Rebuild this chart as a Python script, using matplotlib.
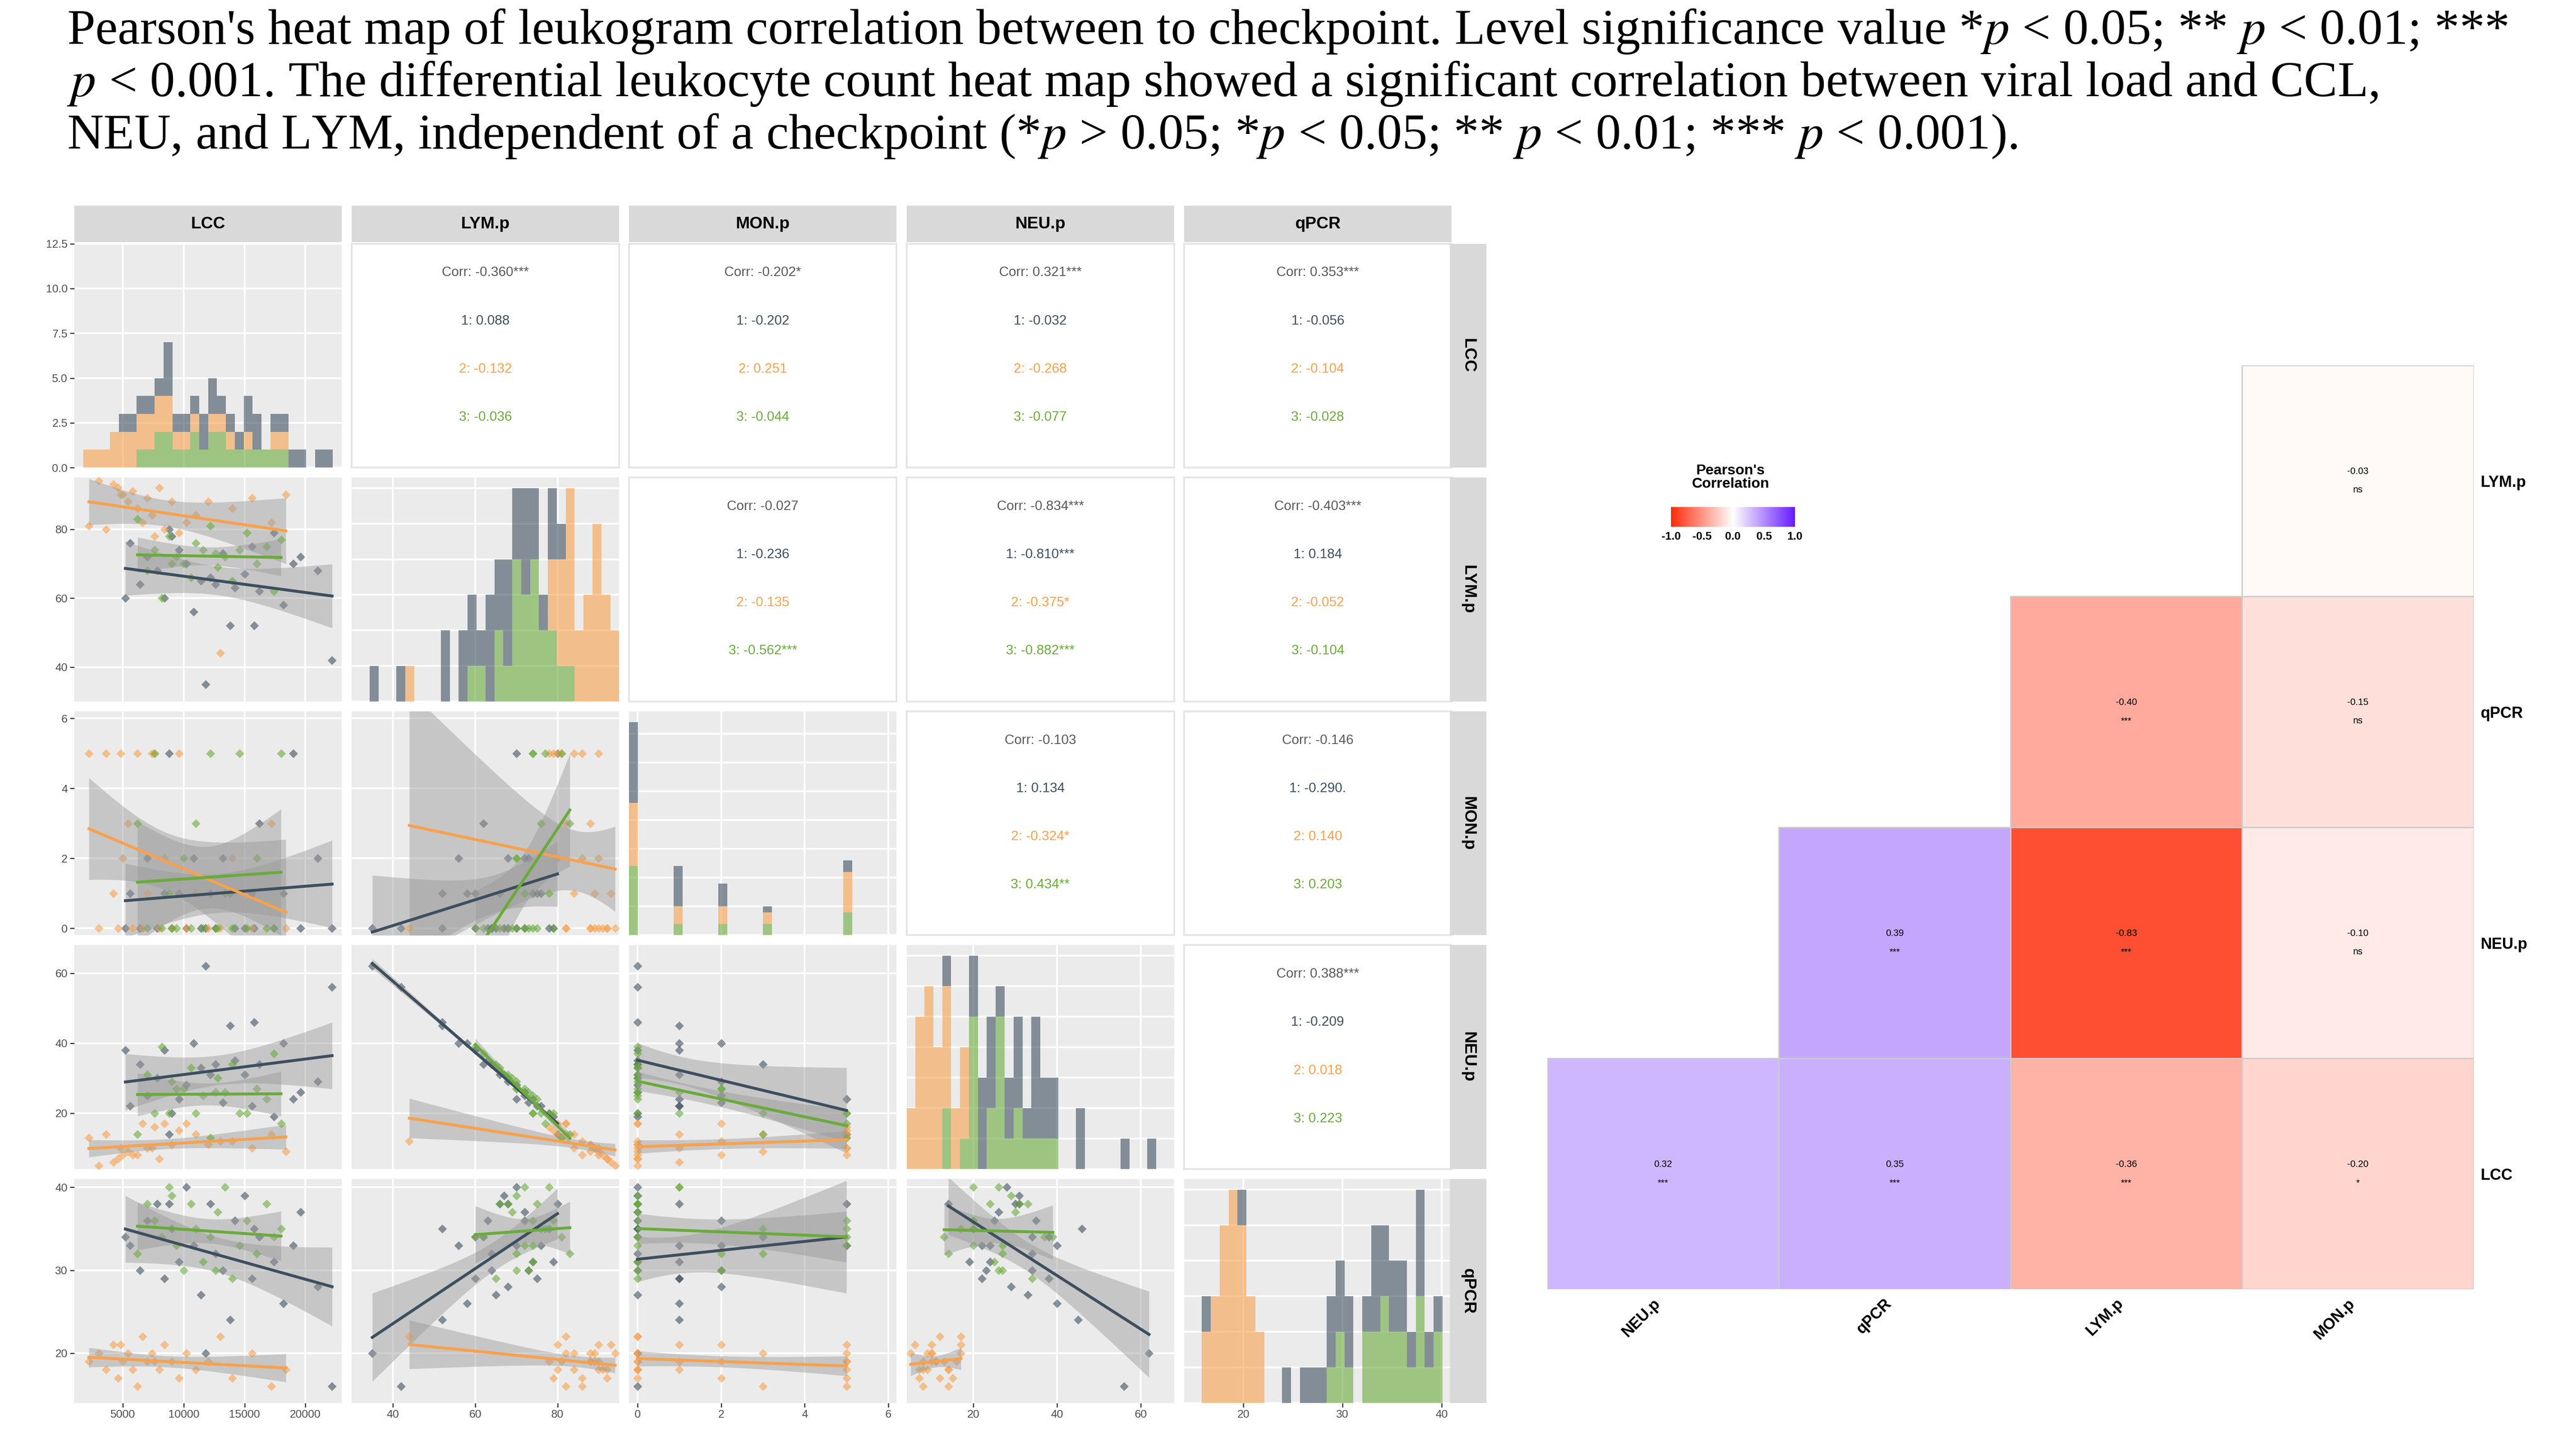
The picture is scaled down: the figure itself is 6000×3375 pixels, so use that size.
import matplotlib.pyplot as plt
import numpy as np
from matplotlib.colors import LinearSegmentedColormap


VARS = ["LCC", "LYM.p", "MON.p", "NEU.p", "qPCR"]
COLORS = {1: "#3d4f5f", 2: "#f7a14d", 3: "#6aab3b"}

# rows: LCC, LYM.p, MON.p, NEU.p, qPCR
GROUPS = {
    1: [(5200, 60, 0, 38, 34), (5600, 76, 1, 22, 33), (6400, 64, 0, 34, 30), (7000, 72, 2, 25, 36),
        (7800, 68, 0, 30, 38), (8400, 60, 1, 38, 29), (9000, 78, 0, 20, 35), (9600, 74, 1, 24, 31),
        (10200, 70, 0, 28, 40), (10800, 56, 2, 40, 33), (11400, 65, 0, 33, 27), (12200, 66, 1, 31, 38),
        (12600, 64, 0, 34, 32), (13200, 73, 2, 23, 30), (13800, 52, 1, 45, 24), (14200, 63, 0, 35, 36),
        (15000, 67, 0, 31, 39), (15600, 75, 1, 22, 29), (16200, 62, 3, 34, 34), (17400, 79, 0, 19, 31),
        (18200, 58, 1, 40, 26), (19000, 70, 5, 24, 33), (19600, 72, 0, 26, 37), (21000, 68, 2, 29, 28),
        (22200, 42, 0, 56, 16), (11800, 35, 0, 62, 20), (8800, 80, 5, 14, 38), (15800, 52, 0, 46, 35)],
    2: [(2200, 81, 5, 13, 19), (3000, 94, 0, 5, 20), (3600, 80, 5, 14, 18), (4200, 93, 1, 6, 21),
        (4600, 92, 0, 7, 17), (5000, 90, 2, 8, 19), (5400, 88, 3, 9, 20), (5800, 91, 0, 8, 18),
        (6200, 86, 5, 8, 16), (6600, 82, 0, 17, 22), (7000, 89, 1, 10, 19), (7400, 84, 5, 10, 20),
        (8000, 92, 0, 7, 18), (8400, 80, 2, 17, 21), (9000, 88, 0, 11, 19), (9600, 79, 5, 15, 17),
        (10200, 82, 0, 17, 20), (11000, 84, 1, 14, 18), (12000, 88, 0, 11, 19), (13000, 44, 0, 12, 22),
        (14000, 86, 2, 12, 17), (15600, 89, 0, 10, 20), (17200, 82, 3, 14, 16), (18400, 90, 0, 9, 18),
        (4800, 90, 5, 10, 21), (7600, 78, 5, 16, 19)],
    3: [(6200, 83, 3, 14, 32), (7000, 68, 0, 31, 38), (7600, 74, 5, 20, 36), (8200, 60, 0, 39, 34),
        (8800, 78, 1, 20, 40), (9400, 72, 0, 27, 33), (10000, 70, 2, 27, 30), (10600, 66, 0, 33, 38),
        (11000, 76, 3, 20, 35), (11600, 74, 0, 25, 31), (12200, 81, 5, 13, 34), (12800, 69, 0, 30, 37),
        (13400, 72, 1, 26, 40), (14000, 65, 0, 34, 29), (14600, 74, 5, 20, 33), (15200, 79, 0, 20, 36),
        (16000, 70, 2, 27, 32), (16800, 75, 0, 24, 38), (17400, 62, 0, 37, 34), (18000, 77, 5, 17, 35),
        (9000, 70, 0, 29, 39), (12600, 73, 0, 26, 30)],
}

LIMITS = [(1000, 23000), (30, 95), (-0.2, 6.2), (4, 68), (14, 41)]
TICKS = [[5000, 10000, 15000, 20000], [40, 60, 80], [0, 2, 4, 6], [20, 40, 60], [20, 30, 40]]

# Corr text in the upper panels: overall, group 1, 2, 3
CORR_TEXT = {
    (0, 1): ["-0.360***", "0.088", "-0.132", "-0.036"],
    (0, 2): ["-0.202*", "-0.202", "0.251", "-0.044"],
    (0, 3): ["0.321***", "-0.032", "-0.268", "-0.077"],
    (0, 4): ["0.353***", "-0.056", "-0.104", "-0.028"],
    (1, 2): ["-0.027", "-0.236", "-0.135", "-0.562***"],
    (1, 3): ["-0.834***", "-0.810***", "-0.375*", "-0.882***"],
    (1, 4): ["-0.403***", "0.184", "-0.052", "-0.104"],
    (2, 3): ["-0.103", "0.134", "-0.324*", "0.434**"],
    (2, 4): ["-0.146", "-0.290.", "0.140", "0.203"],
    (3, 4): ["0.388***", "-0.209", "0.018", "0.223"],
}

# ggcorrplot cells: (row, col, r, label)
HEAT_COLS = ["NEU.p", "qPCR", "LYM.p", "MON.p"]
HEAT_ROWS = ["LCC", "NEU.p", "qPCR", "LYM.p"]  # bottom to top
HEAT_CELLS = [
    (3, 3, -0.03, "ns"),
    (2, 2, -0.40, "***"), (2, 3, -0.15, "ns"),
    (1, 1, 0.39, "***"), (1, 2, -0.83, "***"), (1, 3, -0.10, "ns"),
    (0, 0, 0.32, "***"), (0, 1, 0.35, "***"), (0, 2, -0.36, "***"), (0, 3, -0.20, "*"),
]

W, H = 1560.0, 880.0  # layout measured on the reference


def box(x0, y0, w, h):
    return [x0 / W, 1 - (y0 + h) / H, w / W, h / H]


def style_panel(ax, i, j):
    ax.set_facecolor("#ebebeb")
    ax.grid(True, color="white", lw=0.8)
    ax.set_axisbelow(True)
    for s in ax.spines.values():
        s.set_visible(False)
    ax.tick_params(length=2, width=0.5, color="#333333", labelsize=5, labelcolor="#4d4d4d", pad=1)
    if j != 0:
        ax.tick_params(labelleft=False, left=False)
    if i != 4:
        ax.tick_params(labelbottom=False, bottom=False)


def draw_hist(ax, k):
    data = [np.array(GROUPS[g])[:, k] for g in (3, 2, 1)]
    ax.hist(data, bins=30, range=LIMITS[k], stacked=True,
            color=[COLORS[3], COLORS[2], COLORS[1]], alpha=0.6)


def draw_scatter(ax, kx, ky):
    for g in (1, 2, 3):
        arr = np.array(GROUPS[g], dtype=float)
        x, y = arr[:, kx], arr[:, ky]
        ax.scatter(x, y, marker="D", s=8, color=COLORS[g], alpha=0.6, lw=0)
        b, a = np.polyfit(x, y, 1)
        xs = np.linspace(x.min(), x.max(), 50)
        res = y - (a + b * x)
        s = np.sqrt((res ** 2).sum() / (len(x) - 2))
        se = s * np.sqrt(1 / len(x) + (xs - x.mean()) ** 2 / ((x - x.mean()) ** 2).sum())
        ax.fill_between(xs, a + b * xs - 2.05 * se, a + b * xs + 2.05 * se, color="#999999", alpha=0.45, lw=0)
        ax.plot(xs, a + b * xs, color=COLORS[g], lw=1.3)


def draw_text(ax, texts):
    ax.set_facecolor("white")
    ax.set_xticks([])
    ax.set_yticks([])
    for s in ax.spines.values():
        s.set_color("#e5e5e5")
    labels = ["Corr: " + texts[0], "1: " + texts[1], "2: " + texts[2], "3: " + texts[3]]
    cols = ["#595959", COLORS[1], COLORS[2], COLORS[3]]
    for n, (t, c) in enumerate(zip(labels, cols)):
        ax.text(0.5, 0.87 - n * 0.215, t, color=c, fontsize=6, ha="center", va="center", transform=ax.transAxes)


def plot_pairs(fig):
    for i in range(5):
        for j in range(5):
            ax = fig.add_axes(box(45 + 168 * j, 148 + 142 * i, 162, 136))
            if i < j:
                draw_text(ax, CORR_TEXT[(i, j)])
                continue
            style_panel(ax, i, j)
            if i == j:
                draw_hist(ax, i)
                ax.set_xlim(LIMITS[i])
                if i == 0:
                    ax.set_yticks([0, 2.5, 5, 7.5, 10, 12.5])
                    ax.set_yticklabels(["0.0", "2.5", "5.0", "7.5", "10.0", "12.5"])
            else:
                draw_scatter(ax, j, i)
                ax.set_xlim(LIMITS[j])
                ax.set_ylim(LIMITS[i])
                ax.set_yticks(TICKS[i])
            ax.set_xticks(TICKS[j])

    for j, name in enumerate(VARS):
        st = fig.add_axes(box(45 + 168 * j, 125, 162, 22))
        st.set_facecolor("#d9d9d9")
        st.set_xticks([])
        st.set_yticks([])
        for s in st.spines.values():
            s.set_visible(False)
        st.text(0.5, 0.5, name, ha="center", va="center", fontsize=7.5, fontweight="bold", transform=st.transAxes)
    for i, name in enumerate(VARS):
        st = fig.add_axes(box(878, 148 + 142 * i, 22, 136))
        st.set_facecolor("#d9d9d9")
        st.set_xticks([])
        st.set_yticks([])
        for s in st.spines.values():
            s.set_visible(False)
        st.text(0.5, 0.5, name, ha="center", va="center", rotation=-90, fontsize=7.5, fontweight="bold",
                transform=st.transAxes)


def plot_heat(fig):
    cmap = LinearSegmentedColormap.from_list("rwb", ["#ff2c0a", "#ffffff", "#681bff"])
    ax = fig.add_axes(box(937, 222, 561, 561))
    for r, c, v, lab in HEAT_CELLS:
        ax.add_patch(plt.Rectangle((c, r), 1, 1, facecolor=cmap((v + 1) / 2), edgecolor="#cccccc", lw=0.6))
        ax.text(c + 0.5, r + 0.54, f"{v:.2f}", ha="center", va="center", fontsize=4.2)
        ax.text(c + 0.5, r + 0.46, lab, ha="center", va="center", fontsize=4.2)
    ax.set_xlim(0, 4)
    ax.set_ylim(0, 4)
    for s in ax.spines.values():
        s.set_visible(False)
    ax.set_xticks(np.arange(4) + 0.5)
    ax.set_xticklabels(HEAT_COLS, rotation=45, ha="right", va="top", fontsize=7, fontweight="bold")
    ax.set_yticks(np.arange(4) + 0.5)
    ax.set_yticklabels(HEAT_ROWS, fontsize=7, fontweight="bold")
    ax.yaxis.tick_right()
    ax.tick_params(length=0, pad=3)

    fig.text(1048 / W, 1 - 290 / H, "Pearson's\nCorrelation", ha="center", va="center",
             fontsize=6.5, fontweight="bold", linespacing=1.0)
    cax = fig.add_axes(box(1012, 308, 75, 12))
    cax.imshow(np.linspace(-1, 1, 200)[None, :], cmap=cmap, aspect="auto", extent=(-1, 1, 0, 1))
    cax.set_yticks([])
    cax.set_xticks([-1, -0.5, 0, 0.5, 1])
    cax.set_xticklabels(["-1.0", "-0.5", "0.0", "0.5", "1.0"], fontsize=5, fontweight="bold")
    cax.tick_params(length=0, pad=2)
    for s in cax.spines.values():
        s.set_visible(False)


def main():
    plt.rcParams["font.family"] = ["Liberation Sans", "DejaVu Sans"]
    fig = plt.figure(figsize=(16, 9), dpi=375)
    fig.text(0.026, 0.995,
             "Pearson's heat map of leukogram correlation between to checkpoint. Level significance value *$p$ < 0.05; ** $p$ < 0.01; ***\n"
             "$p$ < 0.001. The differential leukocyte count heat map showed a significant correlation between viral load and CCL,\n"
             "NEU, and LYM, independent of a checkpoint (*$p$ > 0.05; *$p$ < 0.05; ** $p$ < 0.01; *** $p$ < 0.001).",
             ha="left", va="top", fontsize=22.5, family="Liberation Serif", linespacing=1.12,
             math_fontfamily="stix")
    plot_pairs(fig)
    plot_heat(fig)
    fig.savefig("out.png", dpi=375)


if __name__ == "__main__":
    main()
